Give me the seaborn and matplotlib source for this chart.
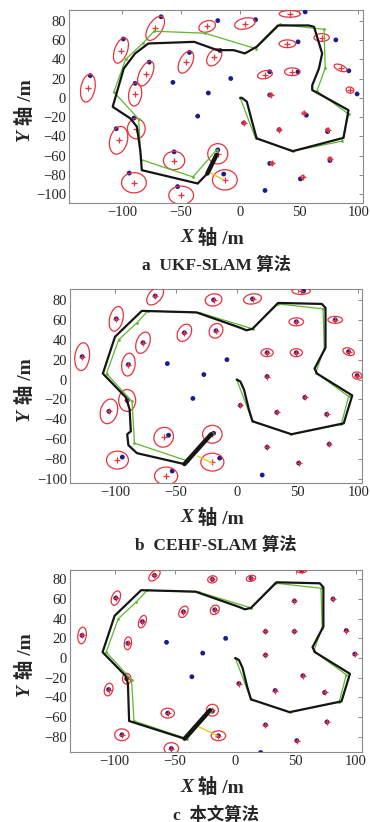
import numpy as np
import pandas as pd
import seaborn as sns
import matplotlib.pyplot as plt
from matplotlib.patches import Ellipse

nan = np.nan

# 路标真实位置
lm_x = [-67, -19, 13, 55, -99, -77, -43, -17, -127, -89, -57, -8, -27, 25, 49, 92, 81, 49,
        25, 99, -90, -105, -36, 3, 56, 33, 74, -56, -19, 25, 76, -94, -14, 51, -53, 21]
lm_y = [84, 80, 81, 89, 61, 37, 47, 49, 23, 15, 16, 20, 5, 27, 27, 28, 60, 58,
        3, 4, -21, -32, -19, -26, -18, -33, -35, -56, -54, -68, -65, -78, -79, -84, -92, -96]

# 路径点(绿色)
wp_x = [0, 13, 45, 86, 92, 65, 72, 71, 34, 13, -30, -73, -82, -97, -107, -86, -84, -40, -20]
wp_y = [0, -42, -55, -45, -17, 7, 31, 71, 76, 51, 67, 69, 57, 40, 6, -22, -64, -82, -54]

# a: UKF-SLAM
black_a_x = [0, 1.4, 5.6, 9.7, 13.9, 44.4, 87.5, 91.7, 61, 61, 66.7, 69.4, 62.5, 58, 32, 14, 4,
             -5.6, -19.4, -39, -77.8, -89, -98.6, -108, -93, -87.5, -84.7, -83.3, -36, -27.8, -20]
black_a_y = [0, 0, -4, -23, -42, -55.3, -41.5, -12.8, 8, 13, 30.4, 46, 73.6, 75, 75, 53, 46,
             49.4, 49.4, 58, 56.3, 46, 30.4, -9.3, -21.4, -30, -54, -75, -88.8, -78.4, -59]
est_a_x = [-72, -28, 4, 42, -101, -80, -46, -22, -129, -89, nan, nan, nan, 21, 44, 85, 69, 40,
           26, 93, -88, -103, nan, 3, 54, 33, 74, -56, -19, 27, 76, -90, -13, 53, -50, nan]
est_a_y = [72, 74, 77, 87, 49, 25, 37, 42, 10, 3.5, nan, nan, nan, 24, 27, 31, 62.5, 56,
           3, 8, -32, -44, nan, -26, -16, -33, -33, -65, -58, -68, -63, -88, -85, -82, -101, nan]
ell_a_w = [12, 15, 18, 18, 11, 11, 11, 11, 12, 11, 0, 0, 0, 13, 13, 12, 13, 14,
           3, 7, 15, 15, 0, 3, 3, 3, 3, 18, 17, 3, 3, 21, 21, 3, 21, 0]
ell_a_h = [27, 11, 11, 7, 27, 27, 24, 19, 29, 24, 0, 0, 0, 8, 8, 6, 8, 8,
           3, 6, 21, 29, 0, 3, 3, 3, 3, 19, 21, 3, 3, 21, 21, 3, 19, 0]
ell_a_ang = [-25, 30, 20, 0, -15, -20, -20, -25, -8, -5, 0, 0, 0, 20, 0, -30, 0, 0,
             0, -40, 0, -10, 0, 0, 0, 0, 0, 0, 0, 0, 0, -15, 0, 0, 0, 0]
yellow_a_x = [-25, -14]
yellow_a_y = [-78, -85]

# b: CEHF-SLAM
black_b_x = [0, 3, 6, 10, 13, 45, 88, 95, 66, 64, 73, 73, 70, 34, 13, 8, 3, -33, -78, -100,
             -110, -91, -88, -87, -90, -89, -82, -43, -21]
black_b_y = [0, -2, -10, -30, -42, -55, -44, -16, 6, 11, 32, 72, 76, 77, 51, 49.5, 52, 67.5,
             69, 43, 6, -18, -30, -52, -55, -66, -74, -85, -55]
est_b_x = [-67, -19, 13, 53, -99, -77, -43, -17, -127, -89, nan, nan, nan, 25, 49, 92, 81, 49,
           25, 99, -90, -105, nan, 3, 56, 33, 74, -60, -20, 25, 76, -98, -20, 51, -58, nan]
est_b_y = [84, 80, 81, 89, 61, 37, 47, 49, 23, 15, nan, nan, nan, 27, 27, 28, 60, 58,
           3, 4, -21, -32, nan, -26, -18, -33, -35, -58, -55, -68, -65, -81, -83, -84, -97, nan]
ell_b_w = [11, 14, 15, 15, 11, 11, 11, 11, 12, 11, 0, 0, 0, 10, 10, 10, 12, 12,
           0, 8, 14, 14, 0, 0, 0, 0, 0, 16, 16, 0, 0, 18, 19, 0, 19, 0]
ell_b_h = [20, 12, 10, 7, 25, 22, 18, 15, 28, 23, 0, 0, 0, 8, 8, 7, 7, 8,
           0, 7, 22, 25, 0, 0, 0, 0, 0, 20, 18, 0, 0, 18, 18, 0, 18, 0]
ell_b_ang = [-30, 20, 15, 0, -10, -15, -20, -15, -5, -5, 0, 0, 0, 0, 0, -30, 0, 0,
             0, -30, 0, -10, 0, 0, 0, 0, 0, -10, 0, 0, 0, -10, 0, 0, 0, 0]
yellow_b_x = [-32, -20]
yellow_b_y = [-77, -84]

# c: 本文算法
black_c_x = [0, 3, 6, 10, 13, 45, 88, 95, 66, 64, 73, 73, 70, 34, 13, 8, 3, -33, -78, -100,
             -110, -91, -89, -88, -42, -21]
black_c_y = [0, -2, -10, -30, -42, -55, -44, -16, 6, 11, 32, 72, 76, 77, 51, 49.5, 52, 67.5,
             69, 43, 6, -18, -26, -64, -82, -53]
est_c_x = [-67, -19, 13, 55, -99, -77, -43, -17, -127, -89, nan, nan, nan, 25, 49, 92, 81, 49,
           25, 99, -90, -105, nan, 3, 56, 33, 74, -56, -19, 25, 76, -94, -14, 51, -53, nan]
est_c_y = [84, 80, 81, 89, 61, 37, 47, 49, 23, 15, nan, nan, nan, 27, 27, 28, 60, 58,
           3, 4, -21, -32, nan, -26, -18, -33, -35, -56, -53, -68, -65, -78, -79, -84, -92, nan]
ell_c_w = [7, 8, 8, 8, 7, 6, 7, 7, 7, 6, 0, 0, 0, 0, 0, 0, 0, 0,
           0, 0, 7, 7, 0, 0, 0, 0, 0, 11, 10, 0, 0, 12, 12, 0, 12, 0]
ell_c_h = [13, 7, 6, 5, 15, 13, 12, 10, 17, 13, 0, 0, 0, 0, 0, 0, 0, 0,
           0, 0, 11, 13, 0, 0, 0, 0, 0, 10, 12, 0, 0, 12, 10, 0, 12, 0]
ell_c_ang = [-35, 30, 20, 0, -15, -15, -20, -20, -5, -5, 0, 0, 0, 0, 0, 0, 0, 0,
             0, 0, 0, -10, 0, 0, 0, 0, 0, 0, 0, 0, 0, -20, 0, 0, 0, 0]
yellow_c_x = [-30, -15]
yellow_c_y = [-70, -79]

captions = ['a  UKF-SLAM 算法', 'b  CEHF-SLAM 算法', 'c  本文算法']

sns.set_style('white')
plt.rcParams['font.family'] = ['Liberation Serif', 'Noto Sans CJK SC']

fig = plt.figure(figsize=(3.7, 8.22), dpi=100)
W, H = 370, 822


def add_ax(l, r, t, b):
    return fig.add_axes([l / W, 1 - b / H, (r - l) / W, (b - t) / H])


def draw(ax, bx, by, ex, ey, ew, eh, ea, yx, yy, xlim, ylim, yticks):
    lm = pd.DataFrame({'x': lm_x, 'y': lm_y})
    sns.scatterplot(data=lm, x='x', y='y', ax=ax, color='#1c1c8a', s=12,
                    edgecolor='none', zorder=3)
    est = pd.DataFrame({'x': ex, 'y': ey}).dropna()
    sns.scatterplot(data=est, x='x', y='y', ax=ax, color='#e8323c', marker='+',
                    s=22, linewidth=0.9, zorder=4)
    for x, y, w, h, a in zip(ex, ey, ew, eh, ea):
        if np.isnan(x) or w == 0:
            continue
        ax.add_patch(Ellipse((x, y), w, h, angle=a, fill=False,
                             edgecolor='#e8323c', lw=0.9, zorder=4))
    sns.lineplot(x=wp_x, y=wp_y, ax=ax, sort=False, estimator=None,
                 color='#5cb82e', lw=0.9, marker='o', markersize=2,
                 markeredgewidth=0, zorder=5)
    sns.lineplot(x=bx, y=by, ax=ax, sort=False, estimator=None,
                 color='#151515', lw=1.6, zorder=6)
    sns.lineplot(x=bx[-2:], y=by[-2:], ax=ax, sort=False, estimator=None,
                 color='#151515', lw=3.2, zorder=6)
    sns.lineplot(x=yx, y=yy, ax=ax, sort=False, estimator=None,
                 color='#f2c31c', lw=1.0, zorder=5)
    ax.set_xlim(*xlim)
    ax.set_ylim(*ylim)
    ax.set_xticks([-100, -50, 0, 50, 100])
    ax.set_yticks(yticks)
    ax.set_xlabel('')
    ax.set_ylabel('')
    ax.tick_params(direction='in', length=3, width=0.7, color='#888888',
                   top=True, right=True, labelsize=10.5, pad=2)
    for s in ax.spines.values():
        s.set_color('#8a8a8a')
        s.set_linewidth(0.8)


def axis_label(ax, letter, x, y, rot):
    kw = dict(fontsize=14, fontweight='bold')
    if rot:
        t1 = fig.text(x, y, letter, rotation=90, ha='center', va='top',
                      style='italic', family='Liberation Serif', **kw)
        ax.annotate(' 轴 /m', xy=(0.5, 1), xycoords=t1, rotation=90, ha='center',
                    va='bottom', annotation_clip=False, **kw)
    else:
        t1 = fig.text(x, y, letter, ha='right', va='center',
                      style='italic', family='Liberation Serif', **kw)
        ax.annotate(' 轴 /m', xy=(1, 0.5), xycoords=t1, ha='left', va='center',
                    annotation_clip=False, **kw)


boxes = [(69, 363, 10, 203), (70, 362, 289, 483), (70, 362, 570, 752)]
label_y = [238, 518, 787]
cap_y = [265, 545, 815]
panels = [
    (black_a_x, black_a_y, est_a_x, est_a_y, ell_a_w, ell_a_h, ell_a_ang, yellow_a_x, yellow_a_y,
     (-145, 104), (-109, 91), list(range(-100, 81, 20))),
    (black_b_x, black_b_y, est_b_x, est_b_y, ell_b_w, ell_b_h, ell_b_ang, yellow_b_x, yellow_b_y,
     (-137, 103), (-104, 91), list(range(-100, 81, 20))),
    (black_c_x, black_c_y, est_c_x, est_c_y, ell_c_w, ell_c_h, ell_c_ang, yellow_c_x, yellow_c_y,
     (-137, 105), (-95.5, 89.5), list(range(-80, 81, 20))),
]

for i, p in enumerate(panels):
    l, r, t, b = boxes[i]
    ax = add_ax(l, r, t, b)
    draw(ax, *p)
    cx = (l + r) / 2
    cy = (t + b) / 2
    axis_label(ax, 'Y', 25 / W, 1 - (cy + 23) / H, True)
    axis_label(ax, 'X', (cx - 23) / W, 1 - label_y[i] / H, False)
    fig.text(cx / W, 1 - cap_y[i] / H, captions[i], ha='center', va='center',
             fontsize=12.5, fontweight='bold')

fig.savefig('out.png', dpi=100)
